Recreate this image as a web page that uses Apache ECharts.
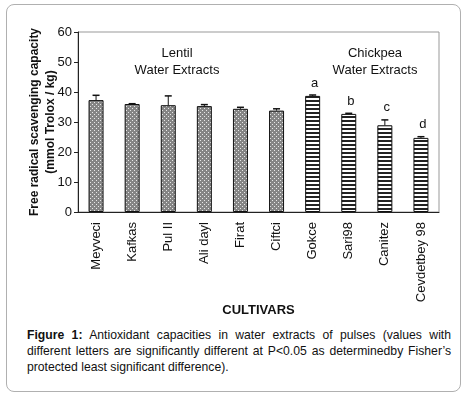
<!DOCTYPE html>
<html>
<head>
<meta charset="utf-8">
<script src="https://cdn.jsdelivr.net/npm/echarts@6/dist/echarts.min.js"></script>
<style>
  body { margin: 0; background: #fff; font-family: "Liberation Sans", Arial, sans-serif; }
  #frame { position: absolute; left: 6px; top: 4px; width: 453px; height: 386px; border: 1px solid #b0b0b0; border-radius: 8px; }
  #chart { position: absolute; left: 0; top: 0; width: 467px; height: 322px; }
  #caption { position: absolute; left: 27px; top: 327px; width: 424px; font-size: 12.2px; line-height: 16px; color: #111; text-align: justify; }
</style>
</head>
<body>
<div id="frame"></div>
<div id="chart"></div>
<div id="caption"><b>Figure 1:</b> Antioxidant capacities in water extracts of pulses (values with different letters are significantly different at P&lt;0.05 as determinedby Fisher’s protected least significant difference).</div>
<script>
// cultivars, lentils first then chickpeas
const categories = ['Meyveci', 'Kafkas', 'Pul II', 'Ali dayl', 'Firat', 'Ciftci', 'Gokce', 'Sari98', 'Canitez', 'Cevdetbey 98']
const lentilMeans = [37.3, 36.0, 35.6, 35.3, 34.4, 33.8]
const chickpeaMeans = [38.7, 32.7, 28.9, 24.7]
const lentilUpper = [38.9, 36.1, 38.7, 35.8, 34.9, 34.4]
const chickpeaUpper = [39.0, 32.9, 30.7, 25.1]
const chickpeaLetters = ['a', 'b', 'c', 'd']
const yTicks = [0, 10, 20, 30, 40, 50, 60]

// fill patterns
function makePattern(w, h, draw) {
  const c = document.createElement('canvas')
  c.width = w
  c.height = h
  draw(c.getContext('2d'))
  return { image: c, repeat: 'repeat' }
}
const dotted = makePattern(4, 4, (ctx) => {
  ctx.fillStyle = '#858585'
  ctx.fillRect(0, 0, 4, 4)
  ctx.fillStyle = '#e8e8e8'
  ctx.fillRect(0, 0, 1, 1)
  ctx.fillRect(2, 2, 1, 1)
})
const striped = makePattern(4, 4, (ctx) => {
  ctx.fillStyle = '#ffffff'
  ctx.fillRect(0, 0, 4, 4)
  ctx.fillStyle = '#222'
  ctx.fillRect(0, 0, 4, 2)
})

const barData = lentilMeans.map((v) => ({ value: v, itemStyle: { color: dotted } }))
  .concat(chickpeaMeans.map((v) => ({ value: v, itemStyle: { color: striped } })))
const errData = lentilMeans.map((v, i) => [i, v, lentilUpper[i], ''])
  .concat(chickpeaMeans.map((v, i) => [i + lentilMeans.length, v, chickpeaUpper[i], chickpeaLetters[i]]))

const font = '"Liberation Sans", Arial, sans-serif'
const groupLabel = (text, x) => ({
  type: 'text', x, y: 62,
  style: { text, fontSize: 13, lineHeight: 17, fill: '#111', align: 'center', verticalAlign: 'middle', fontFamily: font }
})

const myChart = echarts.init(document.getElementById('chart'))
const option = {
  animation: false,
  textStyle: { fontFamily: font },
  grid: {
    left: 78, right: 28, top: 32, bottom: 110,
    outerBoundsMode: 'none',
    show: true, borderColor: '#999', borderWidth: 1
  },
  xAxis: {
    type: 'category',
    data: categories,
    name: 'CULTIVARS',
    nameLocation: 'middle',
    nameGap: 92,
    nameMoveOverlap: false,
    nameTextStyle: { fontSize: 13, fontWeight: 'bold', color: '#111', verticalAlign: 'top' },
    axisLine: { lineStyle: { color: '#222' } },
    axisTick: { length: 4, lineStyle: { color: '#222' } },
    axisLabel: { rotate: 90, fontSize: 13, color: '#111', margin: 10 }
  },
  yAxis: {
    type: 'value',
    min: yTicks[0],
    max: yTicks[yTicks.length - 1],
    interval: 10,
    name: 'Free radical scavenging capacity\n(mmol Trolox / kg)',
    nameLocation: 'middle',
    nameGap: 19,
    nameMoveOverlap: false,
    nameTextStyle: { fontSize: 12, fontWeight: 'bold', color: '#111', lineHeight: 16 },
    axisLine: { show: true, lineStyle: { color: '#222' } },
    axisTick: { show: true, length: 4, lineStyle: { color: '#222' } },
    axisLabel: { fontSize: 13, color: '#111', margin: 6 },
    splitLine: { show: false }
  },
  graphic: [groupLabel('Lentil\nWater Extracts', 177), groupLabel('Chickpea\nWater Extracts', 375)],
  series: [
    {
      type: 'bar',
      data: barData,
      barWidth: 15,
      itemStyle: { borderColor: '#111', borderWidth: 1 }
    },
    {
      type: 'custom',
      data: errData,
      z: 5,
      renderItem(params, api) {
        const base = api.coord([api.value(0), api.value(1)])
        const top = api.coord([api.value(0), api.value(2)])
        const letter = errData[params.dataIndex][3]
        const children = [
          { type: 'line', shape: { x1: base[0], y1: base[1], x2: top[0], y2: top[1] }, style: { stroke: '#111', lineWidth: 1 } },
          { type: 'line', shape: { x1: top[0] - 3.5, y1: top[1], x2: top[0] + 3.5, y2: top[1] }, style: { stroke: '#111', lineWidth: 1.5 } }
        ]
        if (letter) {
          children.push({ type: 'text', x: top[0] + 2, y: top[1] - 12, style: { text: letter, fontSize: 13, fill: '#111', align: 'center', verticalAlign: 'middle', fontFamily: font } })
        }
        return { type: 'group', children }
      }
    }
  ]
}
myChart.setOption(option)
</script>
</body>
</html>
